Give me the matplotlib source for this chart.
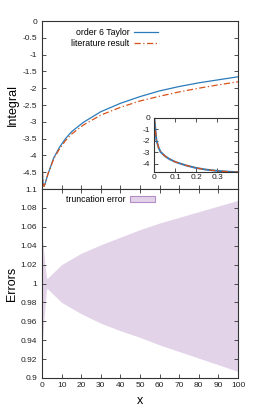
import matplotlib
matplotlib.use("Agg")
import matplotlib.pyplot as plt
import numpy as np
from matplotlib.patches import Patch

plt.rcParams['font.family'] = ['Liberation Sans', 'DejaVu Sans']

# ---- data ----
x_int = [0, 0.01, 0.02, 0.03, 0.05, 0.07, 0.1, 0.15, 0.2, 0.25, 0.3, 0.35, 0.4, 0.6, 1, 1.5, 2, 3, 4, 6, 9, 12, 15, 21, 30, 40, 50, 60, 70, 80, 90, 100]
taylor = [0, -1.9, -2.55, -2.95, -3.3, -3.55, -3.82, -4.12, -4.35, -4.5, -4.6, -4.67, -4.72, -4.85, -4.92, -4.86, -4.76, -4.56, -4.4, -4.07, -3.75, -3.5, -3.3, -3.02, -2.7, -2.45, -2.25, -2.08, -1.95, -1.84, -1.75, -1.66]
literature = [0, -1.9, -2.55, -2.95, -3.3, -3.55, -3.82, -4.12, -4.35, -4.5, -4.6, -4.67, -4.72, -4.85, -4.92, -4.86, -4.76, -4.56, -4.41, -4.1, -3.8, -3.56, -3.37, -3.1, -2.8, -2.57, -2.38, -2.24, -2.11, -2.0, -1.9, -1.81]

x_err = [0, 0.5, 1, 1.5, 2, 2.5, 3, 5, 10, 20, 30, 40, 50, 60, 70, 80, 90, 100]
err_upper = [1.053, 1.042, 1.032, 1.02, 1.011, 1.005, 1.006, 1.010, 1.020, 1.032, 1.041, 1.049, 1.057, 1.064, 1.070, 1.076, 1.082, 1.088]
err_lower = [0.933, 0.948, 0.962, 0.975, 0.988, 0.995, 0.994, 0.990, 0.980, 0.968, 0.958, 0.950, 0.943, 0.935, 0.928, 0.921, 0.914, 0.907]

top_yticks = [0, -0.5, -1, -1.5, -2, -2.5, -3, -3.5, -4, -4.5]
bot_yticks = [0.9, 0.92, 0.94, 0.96, 0.98, 1, 1.02, 1.04, 1.06, 1.08, 1.1]
xticks = [0, 10, 20, 30, 40, 50, 60, 70, 80, 90, 100]
inset_xticks = [0, 0.1, 0.2, 0.3]
inset_yticks = [0, -1, -2, -3, -4]

BLUE = '#2b7bba'
ORANGE = '#d95319'
FILL = '#e2d3e9'
EDGE = '#b48cc8'
SPINE = '#333333'

fig = plt.figure(figsize=(2.8, 4.2), dpi=100)
ax1 = fig.add_axes([0.15, 0.55, 0.70, 0.40])
ax2 = fig.add_axes([0.15, 0.10, 0.70, 0.45])

def style(ax, top=True):
    for s in ax.spines.values():
        s.set_color(SPINE)
        s.set_linewidth(0.8)
    ax.tick_params(direction='in', length=3, width=0.6, color=SPINE,
                   labelsize=6, pad=3.5, top=top, right=True, labelcolor='#222222')

# top panel
ax1.plot(x_int, taylor, color=BLUE, lw=0.9, label='order 6 Taylor')
ax1.plot(x_int, literature, color=ORANGE, lw=0.9, ls=(0, (5, 2, 1, 2)), label='literature result')
ax1.set_xlim(0, 100)
ax1.set_ylim(-5, 0)
ax1.set_yticks(top_yticks)
ax1.set_yticklabels([f'{v:g}' for v in top_yticks])
ax1.set_xticks(xticks)
ax1.tick_params(labelbottom=False)
style(ax1, top=False)
ax1.set_ylabel('Integral', fontsize=9)
ax1.yaxis.set_label_coords(-0.12, 0.5)
leg = ax1.legend(loc='upper left', bbox_to_anchor=(0.122, 0.99), frameon=False, fontsize=6.3,
                 markerfirst=False, handlelength=2.8, handletextpad=0.5, labelspacing=0.25,
                 borderaxespad=0.2)
for t in leg.get_texts():
    t.set_ha('right')

# bottom panel
ax2.fill_between(x_err, err_lower, err_upper, color=FILL, lw=0)
ax2.set_xlim(0, 100)
ax2.set_ylim(0.9, 1.1)
ax2.set_yticks(bot_yticks)
ax2.set_yticklabels([f'{v:g}' for v in bot_yticks])
ax2.set_xticks(xticks)
style(ax2, top=True)
ax2.tick_params(axis='x', pad=3)
ax2.set_ylabel('Errors', fontsize=9)
ax2.yaxis.set_label_coords(-0.12, 0.5)
ax2.set_xlabel('x', fontsize=9, labelpad=4)
ax2.legend(handles=[Patch(facecolor=FILL, edgecolor=EDGE, lw=0.8, label='truncation error')],
           loc='upper center', bbox_to_anchor=(0.35, 1.0), frameon=False, fontsize=6.3,
           markerfirst=False, handlelength=2.8, handleheight=0.6, handletextpad=0.5, borderaxespad=0.3)

# inset
axi = fig.add_axes([0.551, 0.5905, 0.299, 0.1286])
axi.plot(x_int, taylor, color=BLUE, lw=1.4)
axi.plot(x_int, literature, color=ORANGE, lw=0.9, ls=(0, (5, 2, 1, 2)))
axi.set_xlim(0, 0.4)
axi.set_ylim(-4.7, 0)
axi.set_xticks(inset_xticks)
axi.set_xticklabels([f'{v:g}' for v in inset_xticks])
axi.set_yticks(inset_yticks)
axi.set_yticklabels([f'{v:g}' for v in inset_yticks])
style(axi, top=True)
axi.tick_params(axis='x', pad=1.5)
axi.tick_params(axis='y', pad=3)

fig.savefig('out.png', dpi=100)
